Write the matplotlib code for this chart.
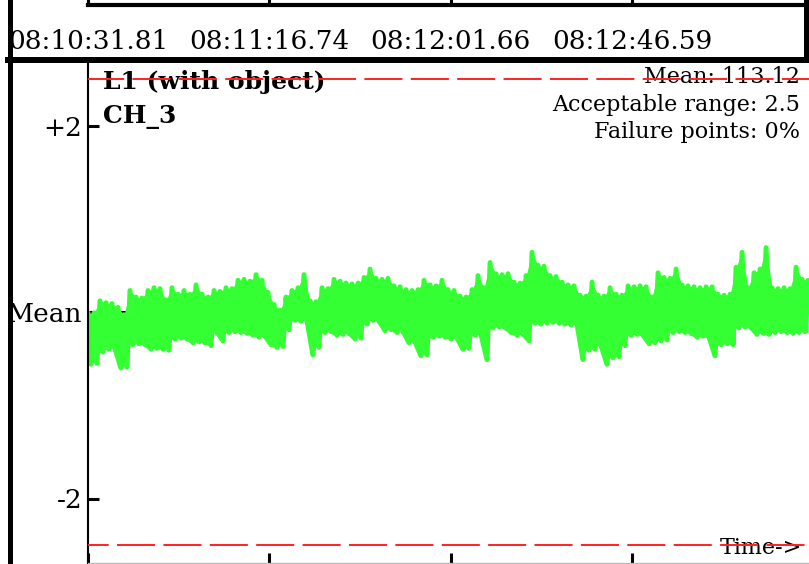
import numpy as np
import matplotlib
matplotlib.use("Agg")
import matplotlib.pyplot as plt
from matplotlib.lines import Line2D

plt.rcParams['font.family'] = ['DejaVu Serif']
plt.rcParams['lines.scale_dashes'] = False

# ---------------- data ----------------
title = "L1 (with object)"
channel = "CH_3"
mean_value = 113.12
acceptable_range = 2.5
failure_pct = 0
time_labels = ["08:10:31.81", "08:11:16.74", "08:12:01.66", "08:12:46.59"]
y_tick_offsets = [2, 0, -2]
y_tick_labels = ["+2", "Mean", "-2"]

# upper / lower swings of the signal around the mean (deviation units)
peak_dev = [-0.01, -0.01, 0.12, 0.10, 0.09, 0.05, -0.03, 0.23, 0.16, 0.15,
            0.23, 0.26, 0.25, 0.13, 0.26, 0.19, 0.23, 0.19, 0.29, 0.19,
            0.16, 0.23, 0.22, 0.26, 0.25, 0.34, 0.35, 0.33, 0.40, 0.34,
            0.21, 0.08, 0.02, 0.16, 0.23, 0.26, 0.40, 0.12, 0.11, 0.26,
            0.25, 0.35, 0.33, 0.31, 0.30, 0.31, 0.37, 0.46, 0.36, 0.35,
            0.36, 0.28, 0.27, 0.24, 0.23, 0.24, 0.34, 0.29, 0.28, 0.34,
            0.24, 0.23, 0.17, 0.16, 0.24, 0.39, 0.26, 0.53, 0.41, 0.40,
            0.41, 0.32, 0.31, 0.39, 0.64, 0.50, 0.49, 0.39, 0.38, 0.32,
            0.29, 0.28, 0.18, 0.17, 0.32, 0.18, 0.17, 0.26, 0.19, 0.18,
            0.28, 0.27, 0.28, 0.27, 0.16, 0.42, 0.37, 0.36, 0.46, 0.29,
            0.28, 0.27, 0.26, 0.27, 0.27, 0.19, 0.18, 0.19, 0.48, 0.64,
            0.26, 0.42, 0.46, 0.69, 0.26, 0.25, 0.26, 0.25, 0.48, 0.35,
            0.34]
trough_dev = [-0.56, -0.55, -0.43, -0.40, -0.39, -0.60, -0.59, -0.35, -0.34, -0.35,
              -0.40, -0.39, -0.40, -0.41, -0.29, -0.28, -0.29, -0.33, -0.32, -0.33,
              -0.36, -0.22, -0.31, -0.22, -0.21, -0.22, -0.23, -0.25, -0.27, -0.26,
              -0.35, -0.38, -0.37, -0.19, -0.09, -0.10, -0.09, -0.46, -0.38, -0.22,
              -0.21, -0.25, -0.24, -0.23, -0.29, -0.28, -0.13, -0.09, -0.10, -0.20,
              -0.19, -0.22, -0.21, -0.33, -0.32, -0.47, -0.46, -0.27, -0.26, -0.27,
              -0.29, -0.28, -0.40, -0.39, -0.25, -0.24, -0.51, -0.17, -0.16, -0.17,
              -0.22, -0.25, -0.24, -0.31, -0.12, -0.13, -0.12, -0.11, -0.12, -0.13,
              -0.14, -0.13, -0.51, -0.41, -0.40, -0.36, -0.56, -0.49, -0.48, -0.36,
              -0.25, -0.24, -0.25, -0.34, -0.33, -0.31, -0.30, -0.22, -0.21, -0.22,
              -0.23, -0.27, -0.26, -0.27, -0.47, -0.35, -0.34, -0.35, -0.17, -0.16,
              -0.17, -0.24, -0.23, -0.24, -0.22, -0.21, -0.22, -0.23, -0.22, -0.21,
              -0.22]
sample_step = 0.7435  # seconds between samples

# ---------------- build series ----------------
series_dev = np.empty(len(peak_dev) + len(trough_dev))
series_dev[0::2] = peak_dev
series_dev[1::2] = trough_dev
values = mean_value + series_dev
times = np.arange(len(values)) * sample_step


def to_sec(s):
    h, m, sec = s.split(":")
    return int(h) * 3600 + int(m) * 60 + float(sec)


tick_secs = [to_sec(s) - to_sec(time_labels[0]) for s in time_labels]

# ---------------- figure ----------------
W, H = 809, 564
fig = plt.figure(figsize=(W / 100, H / 100), dpi=100)

ax_left, ax_right = 88, 809
ax_top_px, ax_bot_px = 63, 563
ax = fig.add_axes([ax_left / W, 1 - ax_bot_px / H,
                   (ax_right - ax_left) / W, (ax_bot_px - ax_top_px) / H])

px_per_unit = 93.25
mean_px = 312
ax.set_ylim(mean_value - (ax_bot_px - mean_px) / px_per_unit,
            mean_value + (mean_px - ax_top_px) / px_per_unit)
sec_per_px = 0.2478
ax.set_xlim(0, (ax_right - ax_left) * sec_per_px)

green = '#33ff33'
ax.axhline(mean_value, color='black', lw=1.5, zorder=1)
ax.fill_between(times[0::2], values[0::2], values[1::2], color=green,
                lw=0, zorder=2)
ax.plot(times, values, color=green, lw=3.6, zorder=2,
        solid_joinstyle='round', solid_capstyle='round')
ax.axhline(mean_value + acceptable_range, color='#ff2020', lw=1.4,
           linestyle=(1.4, (27.4, 6.0)), zorder=6)
ax.axhline(mean_value - acceptable_range, color='#ff2020', lw=1.4,
           linestyle=(12.5, (27.4, 6.0)), zorder=6)

ax.set_yticks([mean_value + o for o in y_tick_offsets])
ax.set_yticklabels(y_tick_labels, fontsize=19)
ax.tick_params(axis='y', direction='in', length=8, width=2.2, pad=4)
ax.set_xticks(tick_secs)
ax.tick_params(axis='x', direction='in', length=7.5, width=2.2,
               labelbottom=False)
for s in ['top', 'right']:
    ax.spines[s].set_visible(False)
ax.spines['left'].set_linewidth(1.5)
ax.spines['bottom'].set_color('#bbbbbb')
ax.spines['bottom'].set_linewidth(1)

# texts inside the chart
ax.text(103 / W, 1 - 82 / H, title, transform=fig.transFigure,
        fontsize=18, fontweight='bold', va='center', ha='left', zorder=3)
ax.text(103 / W, 1 - 117 / H, channel, transform=fig.transFigure,
        fontsize=18, fontweight='bold', va='center', ha='left', zorder=3)
info = [f"Mean: {mean_value:.2f}",
        f"Acceptable range: {acceptable_range}",
        f"Failure points: {failure_pct}%"]
for i, line in enumerate(info):
    ax.text(800 / W, 1 - (77 + 27.5 * i) / H, line, transform=fig.transFigure,
            fontsize=16, va='center', ha='right', zorder=3)
ax.text(802 / W, 1 - 548 / H, "Time->", transform=fig.transFigure,
        fontsize=16, va='center', ha='right', zorder=3)

# top time strip (shares the time scale)
ax_t = fig.add_axes([ax_left / W, 1 - 5 / H, (ax_right - ax_left) / W, 5 / H],
                    sharex=ax)
ax_t.set_yticks([])
for s in ['top', 'right', 'left']:
    ax_t.spines[s].set_visible(False)
ax_t.spines['bottom'].set_linewidth(3)
ax_t.set_xticks(tick_secs)
ax_t.set_xticklabels(time_labels, fontsize=19)
ax_t.tick_params(axis='x', direction='in', length=6, width=2.2, pad=17,
                 labelbottom=True)
ax_t.patch.set_visible(False)

# frame lines
fig.add_artist(Line2D([9.5 / W, 9.5 / W], [0, 1], color='black', lw=3.6,
                      transform=fig.transFigure))
fig.add_artist(Line2D([8 / W, 1], [1 - 60 / H, 1 - 60 / H], color='black',
                      lw=4.3, transform=fig.transFigure))
fig.add_artist(Line2D([806 / W, 806 / W], [1, 1 - 60 / H], color='black',
                      lw=3.6, transform=fig.transFigure))

fig.savefig("out.png", dpi=100)
